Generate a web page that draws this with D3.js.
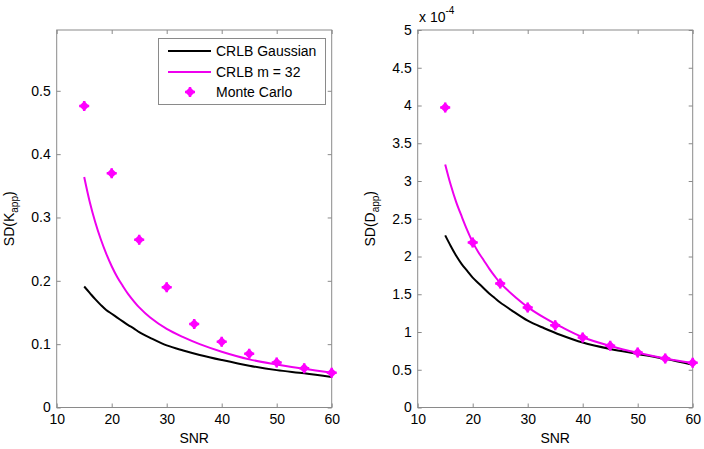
<!DOCTYPE html>
<html><head><meta charset="utf-8">
<script src="https://cdn.jsdelivr.net/npm/d3@7"></script>
<style>
body{margin:0;background:#fff;}
text{font-family:"Liberation Sans",Arial,sans-serif;}
</style></head>
<body><svg id="chart" width="704" height="449"></svg>
<script>
// ---- data ----
const snrCurve = [15,16,17,18,19,20,21,22,23,24,25,27,30,33,36,40,45,50,55,60];
const kGaussian = [0.191,0.181,0.171,0.162,0.154,0.148,0.142,0.136,0.130,0.125,0.119,0.110,0.098,0.090,0.083,0.075,0.066,0.059,0.054,0.048];
const kM32 = [0.364,0.325,0.293,0.266,0.243,0.223,0.206,0.192,0.179,0.168,0.158,0.142,0.124,0.111,0.100,0.088,0.076,0.068,0.061,0.055];
const snrMC = [15,20,25,30,35,40,45,50,55,60];
const kMonteCarlo = [0.476,0.370,0.265,0.190,0.132,0.104,0.085,0.071,0.062,0.055];
const dGaussian = [2.28,2.14,2.01,1.90,1.81,1.72,1.65,1.58,1.51,1.45,1.39,1.29,1.15,1.05,0.96,0.86,0.775,0.71,0.645,0.565];
const dM32 = [3.22,2.95,2.72,2.53,2.35,2.19,2.06,1.95,1.84,1.74,1.65,1.51,1.33,1.19,1.07,0.93,0.815,0.725,0.65,0.59];
const dMonteCarlo = [3.975,2.186,1.643,1.325,1.091,0.928,0.817,0.729,0.649,0.592];
const xTicks = [10,20,30,40,50,60];
const kTicks = [0,0.1,0.2,0.3,0.4,0.5];
const dTicks = [0,0.5,1,1.5,2,2.5,3,3.5,4,4.5,5];
const legendLabels = ["CRLB Gaussian","CRLB m = 32","Monte Carlo"];

const BLACK="#000", MAG_LINE="#ee00ee", MAG="#ff00ff", AXIS="#8a8a8a";
const svg = d3.select("#chart");

function marker(g, x, y){
  const s=5;
  g.append("path")
   .attr("d",`M${x-s},${y}L${x},${y-s}L${x+s},${y}L${x},${y+s}Z`)
   .attr("fill",MAG);
  g.append("path")
   .attr("d",`M${x-s},${y}H${x+s}M${x},${y-s}V${y+s}`)
   .attr("stroke",MAG).attr("stroke-width",2.5);
}

function panel(opts){
  const {left,right,top,bottom,ymax,yTicks,gauss,m32,mc,yfmt,label} = opts;
  const x = d3.scaleLinear().domain([10,60]).range([left,right]);
  const y = d3.scaleLinear().domain([0,ymax]).range([bottom,top]);
  const g = svg.append("g");
  g.append("rect").attr("x",left).attr("y",top).attr("width",right-left).attr("height",bottom-top)
   .attr("fill","none").attr("stroke",AXIS).attr("stroke-width",1);
  const ax = g.append("g").attr("transform",`translate(0,${bottom})`)
    .call(d3.axisBottom(x).tickValues(xTicks).tickSize(-4).tickPadding(7).tickFormat(d3.format("d")));
  const axT = g.append("g").attr("transform",`translate(0,${top})`)
    .call(d3.axisTop(x).tickValues(xTicks).tickSize(-4).tickFormat(""));
  const ay = g.append("g").attr("transform",`translate(${left},0)`)
    .call(d3.axisLeft(y).tickValues(yTicks).tickSize(-4).tickPadding(6).tickFormat(yfmt));
  const ayR = g.append("g").attr("transform",`translate(${right},0)`)
    .call(d3.axisRight(y).tickValues(yTicks).tickSize(-4).tickFormat(""));
  [ax,axT,ay,ayR].forEach(a=>{
    a.select(".domain").remove();
    a.selectAll("line").attr("stroke",AXIS);
    a.selectAll("text").attr("fill","#000").style("font-size","14px").style("font-family","'Liberation Sans',Arial,sans-serif");
  });
  const line = d3.line().x((d,i)=>x(snrCurve[i])).y(d=>y(d)).curve(d3.curveCatmullRom.alpha(0.5));
  g.append("path").datum(gauss).attr("d",line).attr("fill","none").attr("stroke",BLACK).attr("stroke-width",2);
  g.append("path").datum(m32).attr("d",line).attr("fill","none").attr("stroke",MAG_LINE).attr("stroke-width",2);
  mc.forEach((v,i)=>marker(g,x(snrMC[i]),y(v)));
  g.append("text").attr("x",(left+right)/2).attr("y",443).attr("text-anchor","middle")
   .style("font-size","14px").text("SNR");
  const yl = g.append("text").attr("transform",`translate(${opts.ylx},${(top+bottom)/2}) rotate(-90)`)
   .attr("text-anchor","middle").style("font-size","14px");
  yl.append("tspan").text("SD("+label);
  yl.append("tspan").attr("dy",4).style("font-size","10px").text("app");
  yl.append("tspan").attr("dy",-4).text(")");
  return {x,y,g};
}

panel({left:56.7,right:331.7,top:30,bottom:407.5,ymax:0.596,yTicks:kTicks,
  gauss:kGaussian,m32:kM32,mc:kMonteCarlo,yfmt:d3.format(".1~f"),label:"K",ylx:14});
panel({left:417.7,right:692.7,top:30,bottom:407.5,ymax:5,yTicks:dTicks,
  gauss:dGaussian,m32:dM32,mc:dMonteCarlo,yfmt:d=>String(d),label:"D",ylx:375});

const ex = svg.append("text").attr("x",419).attr("y",22).style("font-size","14px");
ex.append("tspan").text("x 10");
ex.append("tspan").attr("dy",-8).style("font-size","10px").text("-4");

const lg = svg.append("g");
lg.append("rect").attr("x",158.5).attr("y",38.5).attr("width",167).attr("height",66)
  .attr("fill","#fff").attr("stroke",AXIS);
const ly=[51,72,92];
lg.append("line").attr("x1",168).attr("x2",211).attr("y1",ly[0]).attr("y2",ly[0]).attr("stroke",BLACK).attr("stroke-width",2);
lg.append("line").attr("x1",168).attr("x2",211).attr("y1",ly[1]).attr("y2",ly[1]).attr("stroke",MAG_LINE).attr("stroke-width",2);
marker(lg,190,ly[2]);
legendLabels.forEach((t,i)=>lg.append("text").attr("x",216).attr("y",ly[i]+5).style("font-size","14px").text(t));
</script></body></html>
